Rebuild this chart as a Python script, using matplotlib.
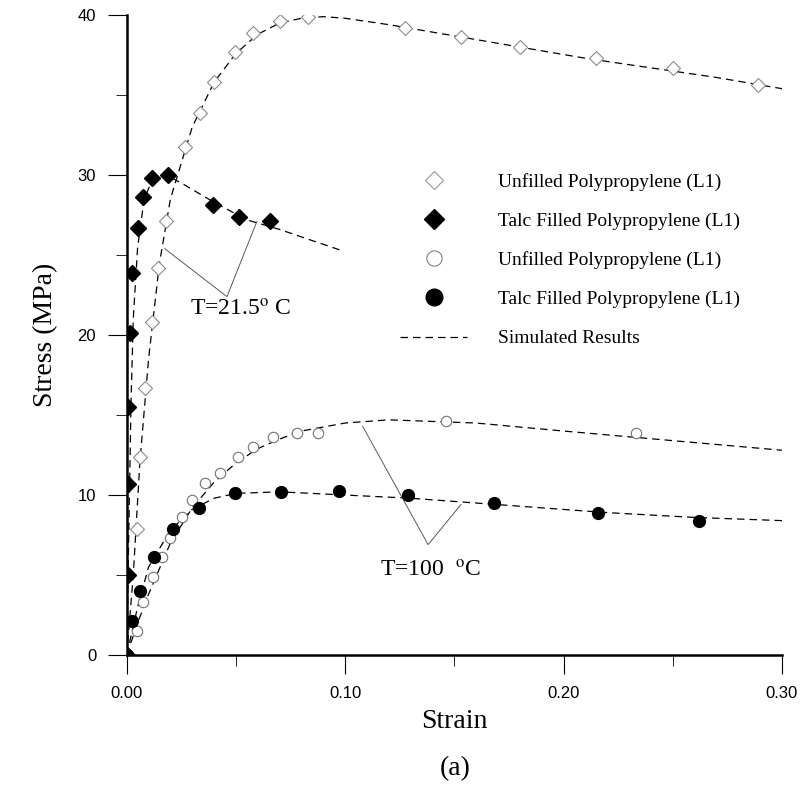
import matplotlib.pyplot as plt
from matplotlib.lines import Line2D
from matplotlib.ticker import MultipleLocator

plt.rcParams['mathtext.fontset'] = 'stix'

pp_rt_strain = [0.0046, 0.006, 0.0083, 0.0115, 0.0142, 0.018, 0.0266, 0.0335, 0.040, 0.0495,
                0.058, 0.070, 0.083, 0.1275, 0.153, 0.180, 0.215, 0.250, 0.289]
pp_rt_stress = [7.9, 12.4, 16.7, 20.8, 24.2, 27.1, 31.75, 33.9, 35.8, 37.7,
                38.9, 39.6, 39.9, 39.2, 38.6, 38.0, 37.3, 36.7, 35.6]

talc_rt_strain = [0.0, 0.0005, 0.0005, 0.0008, 0.0015, 0.0023, 0.005, 0.0073, 0.0115, 0.0188,
                  0.0394, 0.0514, 0.0656]
talc_rt_stress = [0.0, 5.0, 10.7, 15.5, 20.1, 23.9, 26.7, 28.6, 29.8, 30.0,
                  28.1, 27.4, 27.1]

pp_ht_strain = [0.0, 0.0045, 0.0073, 0.012, 0.016, 0.0197, 0.0252, 0.030, 0.0358, 0.0427,
                0.051, 0.058, 0.067, 0.078, 0.0876, 0.146, 0.233]
pp_ht_stress = [0.0, 1.5, 3.3, 4.9, 6.1, 7.3, 8.6, 9.7, 10.75, 11.4,
                12.4, 13.0, 13.6, 13.9, 13.9, 14.6, 13.9]

talc_ht_strain = [0.0, 0.0023, 0.006, 0.0124, 0.0211, 0.033, 0.0495, 0.0706, 0.097, 0.129,
                  0.168, 0.216, 0.262]
talc_ht_stress = [0.0, 2.1, 4.0, 6.1, 7.9, 9.2, 10.1, 10.2, 10.25, 10.0,
                  9.5, 8.9, 8.4]

# simulated curves
sim_pp_rt_x = [0.0, 0.003, 0.006, 0.01, 0.015, 0.02, 0.03, 0.04, 0.05, 0.06, 0.07, 0.08, 0.09,
               0.10, 0.12, 0.15, 0.18, 0.21, 0.24, 0.27, 0.30]
sim_pp_rt_y = [0.0, 5.0, 12.0, 18.5, 24.5, 28.5, 33.0, 35.8, 37.6, 38.8, 39.5, 39.8, 39.9,
               39.8, 39.4, 38.7, 38.0, 37.3, 36.7, 36.1, 35.4]
sim_talc_rt_x = [0.0, 0.001, 0.002, 0.003, 0.005, 0.008, 0.012, 0.018, 0.025, 0.04, 0.055,
                 0.07, 0.085, 0.098]
sim_talc_rt_y = [0.0, 8.0, 16.0, 21.0, 25.5, 28.5, 29.8, 30.0, 29.5, 28.3, 27.2,
                 26.6, 25.9, 25.3]
sim_pp_ht_x = [0.0, 0.005, 0.01, 0.02, 0.03, 0.04, 0.05, 0.06, 0.07, 0.08, 0.10, 0.12, 0.14,
               0.16, 0.20, 0.25, 0.30]
sim_pp_ht_y = [0.0, 2.0, 3.8, 7.0, 9.2, 10.8, 12.0, 12.9, 13.5, 14.0, 14.5, 14.7, 14.6,
               14.5, 14.0, 13.4, 12.8]
sim_talc_ht_x = [0.0, 0.005, 0.01, 0.02, 0.03, 0.04, 0.05, 0.07, 0.10, 0.13, 0.17, 0.22,
                 0.26, 0.30]
sim_talc_ht_y = [0.0, 3.0, 5.5, 7.8, 9.1, 9.8, 10.1, 10.2, 10.0, 9.8, 9.4, 8.9,
                 8.6, 8.4]

labels = ['Unfilled Polypropylene (L1)', 'Talc Filled Polypropylene (L1)',
          'Unfilled Polypropylene (L1)', 'Talc Filled Polypropylene (L1)',
          'Simulated Results']

fig = plt.figure(figsize=(8.02, 7.93), dpi=100)
ax = fig.add_axes([0.158, 0.174, 0.817, 0.807])

dash = dict(color='black', lw=0.9, dashes=(6, 4))
for sx, sy in [(sim_pp_rt_x, sim_pp_rt_y), (sim_talc_rt_x, sim_talc_rt_y),
               (sim_pp_ht_x, sim_pp_ht_y), (sim_talc_ht_x, sim_talc_ht_y)]:
    ax.plot(sx, sy, **dash)

ax.plot(pp_rt_strain, pp_rt_stress, 'D', ms=7, mfc='white', mec='0.55', mew=0.8, zorder=3)
ax.plot(talc_rt_strain, talc_rt_stress, 'D', ms=8, color='black', zorder=3)
ax.plot(pp_ht_strain, pp_ht_stress, 'o', ms=7.5, mfc='white', mec='0.45', mew=0.8, zorder=3)
ax.plot(talc_ht_strain, talc_ht_stress, 'o', ms=8.5, color='black', zorder=3)

# annotation brackets
ann = dict(color='0.35', lw=0.7)
ax.plot([0.0174, 0.0459, 0.0596], [25.4, 22.4, 27.1], **ann)
ax.plot([0.108, 0.138, 0.153], [14.3, 6.9, 9.4], **ann)

serif = 'Liberation Serif'
ax.text(0.029, 22.2, r'T=21.5$^{\mathrm{o}}$ C', family=serif, fontsize=17, va='top')
ax.text(0.116, 5.9, r'T=100  $^{\mathrm{o}}$C', family=serif, fontsize=17, va='top')

handles = [
    Line2D([], [], ls='none', marker='D', ms=9, mfc='white', mec='0.6', mew=0.8),
    Line2D([], [], ls='none', marker='D', ms=10, color='black'),
    Line2D([], [], ls='none', marker='o', ms=11, mfc='white', mec='0.5', mew=0.8),
    Line2D([], [], ls='none', marker='o', ms=12, color='black'),
    Line2D([], [], **dash),
]
ax.legend(handles, labels, loc='upper left', bbox_to_anchor=(0.4775, 0.804),
          bbox_transform=fig.transFigure, frameon=False,
          prop={'family': serif, 'size': 14}, handlelength=3.4, handletextpad=1.6,
          labelspacing=1.1)

ax.set_xlim(0, 0.30)
ax.set_ylim(0, 40)
ax.xaxis.set_major_locator(MultipleLocator(0.10))
ax.xaxis.set_minor_locator(MultipleLocator(0.05))
ax.yaxis.set_major_locator(MultipleLocator(10))
ax.yaxis.set_minor_locator(MultipleLocator(5))
ax.set_xticks([0, 0.1, 0.2, 0.3])
ax.set_xticklabels(['0.00', '0.10', '0.20', '0.30'])

for s in ['top', 'right']:
    ax.spines[s].set_visible(False)
for s in ['left', 'bottom']:
    ax.spines[s].set_linewidth(1.8)

ax.tick_params(which='major', direction='out', length=14, width=0.8, labelsize=12, pad=8)
ax.tick_params(which='minor', direction='out', length=8, width=0.6)
for t in ax.get_xticklabels() + ax.get_yticklabels():
    t.set_family('Liberation Sans')

ax.set_xlabel('Strain', family=serif, fontsize=20, labelpad=6)
ax.set_ylabel('Stress (MPa)', family=serif, fontsize=20, labelpad=14)
fig.text(0.567, 0.0225, '(a)', family=serif, fontsize=20, ha='center')

fig.savefig('out.png', dpi=100)
